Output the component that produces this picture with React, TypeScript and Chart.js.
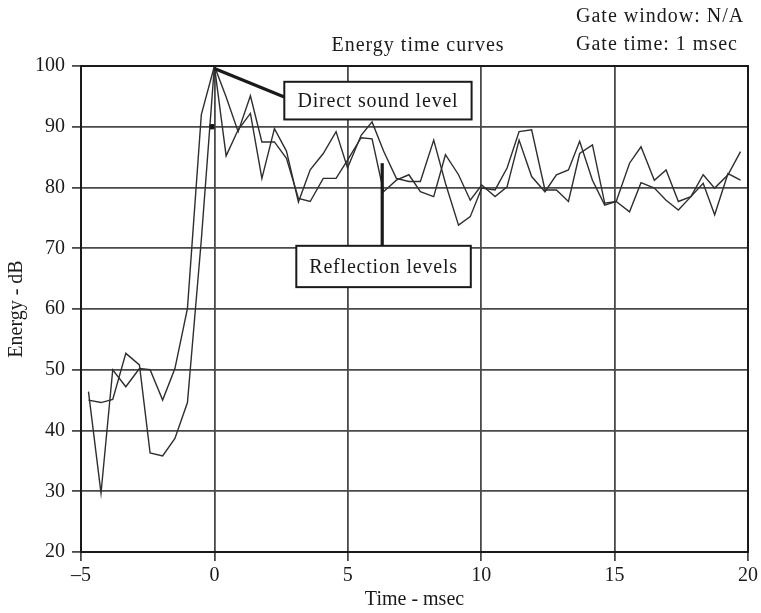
import React, { useEffect, useRef } from "react";
import { Chart, registerables } from "chart.js";

Chart.register(...registerables);

// ---- data ----
const timesMs = [
  -4.72, -4.25, -3.81, -3.32, -2.81, -2.41, -1.94, -1.48, -1.01, -0.49, 0,
  0.44, 0.89, 1.35, 1.78, 2.25, 2.7, 3.15, 3.59, 4.08, 4.56, 4.99, 5.5, 5.91,
  6.34, 6.82, 7.29, 7.72, 8.22, 8.66, 9.15, 9.59, 10.02, 10.52, 10.97, 11.42,
  11.89, 12.39, 12.82, 13.27, 13.69, 14.17, 14.63, 15.06, 15.56, 15.99, 16.49,
  16.93, 17.39, 17.86, 18.32, 18.75, 19.25, 19.72,
];
const levelA = [
  46.4, 29.7, 50.0, 47.2, 50.2, 50.0, 45.0, 50.2, 60.1, 92.0, 100, 94.9, 89.2,
  95.1, 87.5, 87.5, 84.8, 78.2, 77.7, 81.5, 81.5, 84.5, 88.2, 88.0, 79.3, 81.2,
  82.1, 79.3, 78.5, 85.4, 82.1, 77.9, 80.4, 78.5, 80.1, 87.8, 81.8, 79.3, 82.1,
  82.9, 87.6, 81.2, 77.1, 77.7, 84.0, 86.7, 81.2, 82.9, 77.7, 78.5, 82.1, 79.9,
  82.1, 85.9,
];
const levelB = [
  45.0, 44.6, 45.1, 52.7, 50.8, 36.3, 35.8, 38.7, 44.6, 71.4, 100, 85.2, 89.5,
  92.2, 81.5, 89.7, 86.0, 77.6, 82.9, 85.6, 89.2, 83.2, 88.6, 90.8, 86.0, 81.5,
  81.0, 81.0, 87.8, 80.7, 73.8, 75.2, 79.9, 79.6, 83.2, 89.2, 89.5, 79.6, 79.6,
  77.7, 85.6, 87.0, 77.4, 77.7, 76.0, 80.8, 79.9, 77.9, 76.3, 78.5, 80.7, 75.5,
  82.3, 81.2,
];
const markerTimes = [-0.1];
const markerLevels = [90];

const xMin = -5;
const xMax = 20;
const xStep = 5;
const yMin = 20;
const yMax = 100;
const yStep = 10;

const chartTitle = "Energy time curves";
const gateLines = ["Gate window: N/A", "Gate time: 1 msec"];
const xTitle = "Time - msec";
const yTitle = "Energy - dB";

// callouts in data coordinates
const callouts = [
  { label: "Direct sound level", from: [0, 99.6], to: [2.62, 94.9], box: [2.62, 9.64, 97.4, 91.2] },
  { label: "Reflection levels", from: [6.29, 84.0], to: [6.29, 70.4], box: [3.07, 9.61, 70.4, 63.6] },
];

const FAMILY = '"Liberation Serif", "Times New Roman", serif';
const FS = 20;
const INK = "#1a1a1a";

const overlayPlugin = {
  id: "overlay",
  afterDraw(chart: any) {
    const { ctx, chartArea: a, scales } = chart;
    const X = (v: number) => scales.x.getPixelForValue(v);
    const Y = (v: number) => scales.y.getPixelForValue(v);
    ctx.save();
    ctx.strokeStyle = INK;
    ctx.lineWidth = 2;
    ctx.strokeRect(a.left, a.top, a.right - a.left, a.bottom - a.top);

    ctx.font = `${FS}px ${FAMILY}`;
    try {
      (ctx as any).letterSpacing = "0.8px";
    } catch (e) {}
    for (const c of callouts) {
      ctx.strokeStyle = INK;
      ctx.lineWidth = 3.2;
      ctx.beginPath();
      ctx.moveTo(X(c.from[0]), Y(c.from[1]));
      ctx.lineTo(X(c.to[0]), Y(c.to[1]));
      ctx.stroke();
      const l = X(c.box[0]);
      const r = X(c.box[1]);
      const t = Y(c.box[2]);
      const b = Y(c.box[3]);
      ctx.fillStyle = "#ffffff";
      ctx.fillRect(l, t, r - l, b - t);
      ctx.lineWidth = 2;
      ctx.strokeRect(l, t, r - l, b - t);
      ctx.fillStyle = INK;
      ctx.textAlign = "center";
      ctx.textBaseline = "alphabetic";
      ctx.fillText(c.label, (l + r) / 2, (t + b) / 2 + 6.5);
    }

    try {
      (ctx as any).letterSpacing = "1px";
    } catch (e) {}
    ctx.fillStyle = INK;
    ctx.textBaseline = "alphabetic";
    ctx.textAlign = "center";
    ctx.fillText(chartTitle, 418, 51);
    ctx.textAlign = "left";
    ctx.fillText(gateLines[0], 576, 22);
    ctx.fillText(gateLines[1], 576, 50);
    ctx.restore();
  },
};

const fmt = (v: number) => (v < 0 ? "\u2013" + Math.abs(v) : String(v));

export default function App() {
  const ref = useRef<HTMLCanvasElement | null>(null);

  useEffect(() => {
    if (!ref.current) return;
    const gridColor = "#4a4a4a";
    const chart = new Chart(ref.current, {
      type: "line",
      data: {
        datasets: [
          {
            label: "A",
            data: timesMs.map((t, i) => ({ x: t, y: levelA[i] })),
            borderColor: "#2e2e2e",
            borderWidth: 1.4,
            pointRadius: 0,
            tension: 0,
          },
          {
            label: "B",
            data: timesMs.map((t, i) => ({ x: t, y: levelB[i] })),
            borderColor: "#2e2e2e",
            borderWidth: 1.4,
            pointRadius: 0,
            tension: 0,
          },
          {
            label: "marker",
            data: markerTimes.map((t, i) => ({ x: t, y: markerLevels[i] })),
            showLine: false,
            pointStyle: "rect",
            pointRadius: 3,
            backgroundColor: "#111",
            borderColor: "#111",
          },
        ],
      },
      options: {
        animation: false,
        responsive: false,
        devicePixelRatio: 1,
        layout: { padding: { top: 66, right: 11, left: 0, bottom: 0 } },
        plugins: { legend: { display: false }, tooltip: { enabled: false }, title: { display: false } },
        font: { family: FAMILY, size: FS },
        scales: {
          x: {
            type: "linear",
            min: xMin,
            max: xMax,
            afterFit: (s: any) => {
              s.height = 61;
            },
            afterBuildTicks: (s: any) => {
              const ticks = [];
              for (let v = xMin; v <= xMax; v += xStep) ticks.push({ value: v });
              s.ticks = ticks;
            },
            grid: { color: gridColor, lineWidth: 1.8, tickLength: 9, drawTicks: true },
            border: { display: false },
            ticks: {
              color: INK,
              font: { family: FAMILY, size: FS },
              padding: 3,
              maxRotation: 0,
              callback: (v: any) => fmt(Number(v)),
            },
            title: {
              display: true,
              text: xTitle,
              color: INK,
              font: { family: FAMILY, size: FS },
              padding: { top: 0, bottom: 1 },
            },
          },
          y: {
            type: "linear",
            min: yMin,
            max: yMax,
            afterFit: (s: any) => {
              s.width = 81;
            },
            afterBuildTicks: (s: any) => {
              const ticks = [];
              for (let v = yMin; v <= yMax; v += yStep) ticks.push({ value: v });
              s.ticks = ticks;
            },
            grid: { color: gridColor, lineWidth: 1.8, tickLength: 9, drawTicks: true },
            border: { display: false },
            ticks: {
              color: INK,
              font: { family: FAMILY, size: FS },
              padding: 7,
              callback: (v: any) => fmt(Number(v)),
            },
            title: {
              display: true,
              text: yTitle,
              color: INK,
              font: { family: FAMILY, size: FS },
              padding: { top: 5, bottom: 0 },
            },
          },
        },
      },
      plugins: [overlayPlugin],
    } as any);
    return () => chart.destroy();
  }, []);

  return (
    <div style={{ position: "fixed", left: 0, top: 0, width: 761, height: 613, background: "#fff" }}>
      <canvas ref={ref} width={761} height={613} style={{ display: "block", width: 761, height: 613 }} />
    </div>
  );
}
